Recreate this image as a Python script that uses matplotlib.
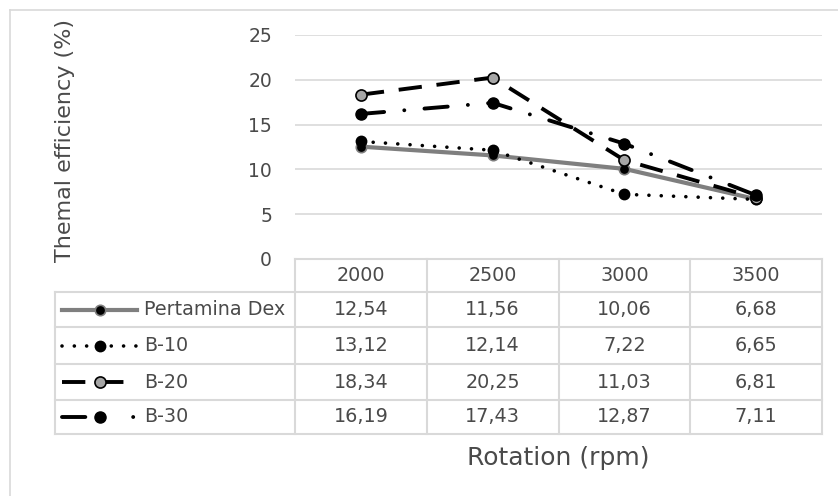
import matplotlib
matplotlib.use("Agg")
import matplotlib.pyplot as plt
from matplotlib.lines import Line2D
from matplotlib.transforms import blended_transform_factory

# ---- data ----
rpm = ["2000", "2500", "3000", "3500"]
series_names = ["Pertamina Dex", "B-10", "B-20", "B-30"]
pertamina_dex = [12.54, 11.56, 10.06, 6.68]
b10 = [13.12, 12.14, 7.22, 6.65]
b20 = [18.34, 20.25, 11.03, 6.81]
b30 = [16.19, 17.43, 12.87, 7.11]
yticks = [0, 5, 10, 15, 20, 25]
series_values = [pertamina_dex, b10, b20, b30]

TXT = "#4a4a4a"
GRID = "#d9d9d9"
W, H = 838, 496

fig = plt.figure(figsize=(W / 100, H / 100), dpi=100)
plt.rcParams['font.family'] = ['DejaVu Sans']

# plot area in pixel coords
PL, PR, PT, PB = 295, 822, 35, 259
ax = fig.add_axes([PL / W, (H - PB) / H, (PR - PL) / W, (PB - PT) / H])
ax.set_xlim(-0.5, 3.5)
ax.set_ylim(0, 25)
for s in ax.spines.values():
    s.set_visible(False)
ax.set_xticks([])
ax.set_yticks(yticks)
ax.tick_params(axis='y', length=0, pad=(PL - 272) * 72 / 100, labelsize=13.5, labelcolor=TXT)
ax.yaxis.grid(True, color=GRID, lw=1.2)
ax.set_axisbelow(True)

def ay(py):
    return (PB - py) / (PB - PT)

def axx(px):
    return (px - PL) / (PR - PL)

styles = [
    dict(color="#7f7f7f", lw=3.0, ls="-", marker="o", ms=7.5, mfc="black", mec="#7f7f7f", mew=1.2),
    dict(color="black", lw=2.6, ls=(0, (0.01, 3.4)), dash_capstyle="round", marker="o", ms=7, mfc="black", mec="black", mew=1.5),
    dict(color="black", lw=2.8, ls=(0, (6, 3.8)), marker="o", ms=8, mfc="#a6a6a6", mec="black", mew=1.2),
    dict(color="black", lw=2.8, ls=(0, (6, 5.2, 0.01, 5.2)), dash_capstyle="round", marker="o", ms=8, mfc="black", mec="black", mew=1.0),
]
legend_ls = ["-", (0, (0.01, 3.4)), (0, (6, 3.8)), (0, (6, 12.3, 0.01, 8))]

x = list(range(len(rpm)))
for vals, st in zip(series_values, styles):
    ax.plot(x, vals, clip_on=False, zorder=3, **st)

# ---- data table ----
bt = blended_transform_factory(ax.transData, ax.transAxes)
rows_py = [259, 292, 327, 364, 400, 434]
LEG_L = 55
tblkw = dict(color=GRID, lw=1.5, clip_on=False, zorder=1)
ax.add_line(Line2D([0, 1], [ay(259)] * 2, transform=ax.transAxes, **tblkw))
for py in rows_py[1:]:
    ax.add_line(Line2D([axx(LEG_L), 1], [ay(py)] * 2, transform=ax.transAxes, **tblkw))
for i in range(len(rpm) + 1):
    ax.add_line(Line2D([i - 0.5, i - 0.5], [ay(259), ay(434)], transform=bt, **tblkw))
ax.add_line(Line2D([axx(LEG_L)] * 2, [ay(292), ay(434)], transform=ax.transAxes, **tblkw))

FS = 13.8
for i, lab in enumerate(rpm):
    ax.text(i, ay((259 + 292) / 2), lab, transform=bt, ha="center", va="center",
            fontsize=FS, color=TXT, clip_on=False)
for r, (name, vals, st, lls) in enumerate(zip(series_names, series_values, styles, legend_ls)):
    yc = ay((rows_py[r + 1] + rows_py[r + 2]) / 2)
    for i, v in enumerate(vals):
        ax.text(i, yc, f"{v:.2f}".replace(".", ","), transform=bt, ha="center", va="center",
                fontsize=FS, color=TXT, clip_on=False)
    ax.text(axx(144), yc, name, transform=ax.transAxes, ha="left", va="center",
            fontsize=FS, color=TXT, clip_on=False)
    lst = dict(st)
    ms = lst.pop("marker"), lst.pop("ms"), lst.pop("mfc"), lst.pop("mec"), lst.pop("mew")
    lst["ls"] = lls
    ax.add_line(Line2D([axx(62), axx(137)], [yc, yc], transform=ax.transAxes, clip_on=False, **lst))
    ax.add_line(Line2D([axx(100)], [yc], transform=ax.transAxes, clip_on=False,
                       marker=ms[0], ms=ms[1], mfc=ms[2], mec=ms[3], mew=ms[4], ls="none"))

# axis titles
fig.text(65 / W, 1 - 140 / H, "Themal efficiency (%)", rotation=90, ha="center", va="center",
         fontsize=16, color=TXT)
fig.text(558 / W, 1 - 458 / H, "Rotation (rpm)", ha="center", va="center", fontsize=18, color=TXT)

# chart border (top and left visible)
fig.add_artist(Line2D([9.5 / W, 1.0], [1 - 9.5 / H] * 2, transform=fig.transFigure, color=GRID, lw=1.2))
fig.add_artist(Line2D([9.5 / W] * 2, [0, 1 - 9.5 / H], transform=fig.transFigure, color=GRID, lw=1.2))

fig.savefig("out.png", dpi=100)
